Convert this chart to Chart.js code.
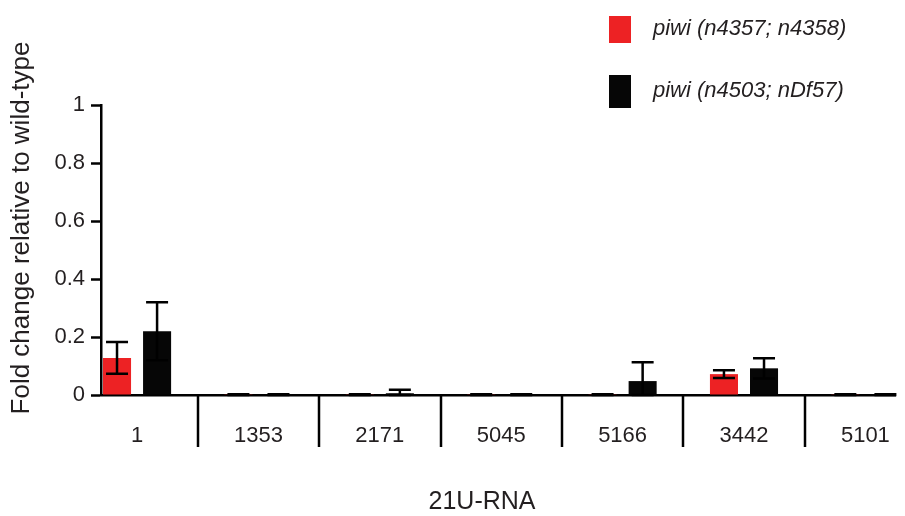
<!DOCTYPE html>
<html>
<head>
<meta charset="utf-8">
<script src="https://cdn.jsdelivr.net/npm/chart.js@4.4.1/dist/chart.umd.min.js"></script>
<style>
  html, body { margin: 0; padding: 0; background: #fff; }
  #wrap { width: 905px; height: 516px; }
</style>
</head>
<body>
<div id="wrap"><canvas id="chart" width="905" height="516"></canvas></div>
<script>
// data
var categories = ['1', '1353', '2171', '5045', '5166', '3442', '5101']
var seriesNames = ['piwi (n4357; n4358)', 'piwi (n4503; nDf57)']
var redValues = [0.128, 0.001, 0.001, 0.001, 0.001, 0.072, 0.001]
var redErr = [0.055, 0.002, 0.002, 0.002, 0.002, 0.013, 0.002]
var blackValues = [0.22, 0.001, 0.006, 0.001, 0.048, 0.092, 0.001]
var blackErr = [0.10, 0.002, 0.012, 0.002, 0.065, 0.035, 0.002]
var yTicks = [0, 0.2, 0.4, 0.6, 0.8, 1]

var RED = '#ed2224'
var BLACK = '#060606'
var TEXT = '#231f20'
var FONT = "'Liberation Sans', Arial, sans-serif"

function to_points(vals){
    return vals.map(function(v, i){ return {x: i, y: v} })
}

// error bars, drawn on top of the bars
var errorBars = {
    id: 'errorBars',
    afterDatasetsDraw: function(chart){
        var ctx = chart.ctx
        var y = chart.scales.y
        var errs = [redErr, blackErr]
        ctx.save()
        ctx.strokeStyle = '#000'
        ctx.lineWidth = 2.5
        chart.data.datasets.forEach(function(ds, d){
            var meta = chart.getDatasetMeta(d)
            meta.data.forEach(function(bar, i){
                var v = ds.data[i].y, e = errs[d][i]
                var top = y.getPixelForValue(v + e)
                var bot = y.getPixelForValue(Math.max(v - e, 0))
                ctx.beginPath()
                ctx.moveTo(bar.x, top); ctx.lineTo(bar.x, bot)
                ctx.moveTo(bar.x - 11, top); ctx.lineTo(bar.x + 11, top)
                ctx.moveTo(bar.x - 11, bot); ctx.lineTo(bar.x + 11, bot)
                ctx.stroke()
            })
        })
        ctx.restore()
    }
}

// separators under the x axis, titles and legend
var decorations = {
    id: 'decorations',
    afterDraw: function(chart){
        var ctx = chart.ctx
        var x = chart.scales.x
        var area = chart.chartArea
        ctx.save()
        ctx.strokeStyle = '#000'
        ctx.lineWidth = 2.5
        for (var i = 0; i < categories.length - 1; i++){
            var px = Math.round(x.getPixelForValue(i + 0.5))
            ctx.beginPath()
            ctx.moveTo(px, area.bottom)
            ctx.lineTo(px, 447)
            ctx.stroke()
        }

        ctx.fillStyle = TEXT
        ctx.textAlign = 'center'
        ctx.textBaseline = 'middle'
        ctx.font = '25px ' + FONT
        ctx.fillText('21U-RNA', 482, 502)

        ctx.save()
        ctx.translate(22, 228)
        ctx.rotate(-Math.PI / 2)
        ctx.font = '26px ' + FONT
        ctx.fillText('Fold change relative to wild-type', 0, 0)
        ctx.restore()

        // legend
        var boxes = [[609, 16, 22, 27], [609, 75, 22, 33]]
        var textY = [29, 91]
        ctx.textAlign = 'left'
        ctx.font = 'italic 22px ' + FONT
        chart.data.datasets.forEach(function(ds, d){
            var b = boxes[d]
            ctx.fillStyle = ds.backgroundColor
            ctx.fillRect(b[0], b[1], b[2], b[3])
            ctx.fillStyle = TEXT
            ctx.fillText(ds.label, 653, textY[d])
        })
        ctx.restore()
    }
}

var ctx = document.getElementById('chart').getContext('2d')
new Chart(ctx, {
    type: 'bar',
    data: {
        datasets: [{
            label: seriesNames[0],
            data: to_points(redValues),
            backgroundColor: RED,
            borderWidth: 0
        }, {
            label: seriesNames[1],
            data: to_points(blackValues),
            backgroundColor: BLACK,
            borderWidth: 0
        }]
    },
    options: {
        responsive: false,
        animation: false,
        categoryPercentage: 0.66,
        barPercentage: 0.7,
        layout: {padding: {top: 105, right: 10, left: 0, bottom: 0}},
        plugins: {legend: {display: false}, tooltip: {enabled: false}},
        scales: {
            x: {
                type: 'linear',
                offset: false,
                min: -0.297,
                max: 6.244,
                afterBuildTicks: function(scale){
                    scale.ticks = categories.map(function(c, i){ return {value: i} })
                },
                afterFit: function(scale){
                    scale.height = 121
                    scale.paddingLeft = 0
                    scale.paddingRight = 0
                },
                ticks: {
                    callback: function(v){ return categories[v] },
                    autoSkip: false,
                    maxRotation: 0,
                    padding: 28,
                    color: TEXT,
                    font: {family: FONT, size: 22}
                },
                grid: {display: false, drawTicks: false, offset: false},
                border: {display: true, color: '#000', width: 2.5}
            },
            y: {
                min: 0,
                max: 1,
                afterBuildTicks: function(scale){
                    scale.ticks = yTicks.map(function(v){ return {value: v} })
                },
                afterFit: function(scale){ scale.width = 101 },
                ticks: {
                    callback: function(v){ return String(v) },
                    padding: 6,
                    color: TEXT,
                    font: {family: FONT, size: 22}
                },
                grid: {drawOnChartArea: false, drawTicks: true, tickLength: 10, tickWidth: 2.5, tickColor: '#000'},
                border: {display: true, color: '#000', width: 2.5}
            }
        }
    },
    plugins: [errorBars, decorations]
});
</script>
</body>
</html>
